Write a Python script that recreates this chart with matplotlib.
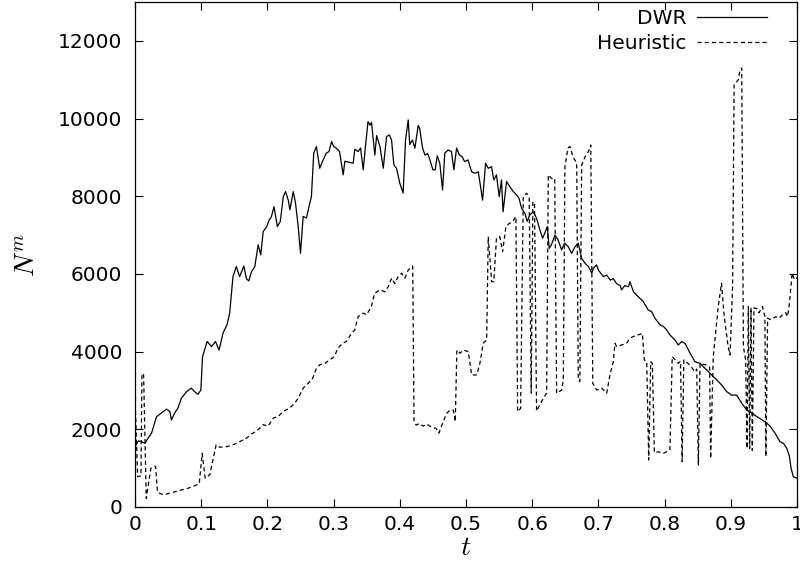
import matplotlib
matplotlib.use("Agg")
import matplotlib.pyplot as plt

plt.rcParams["font.family"] = ["DejaVu Sans"]
plt.rcParams["mathtext.fontset"] = "cm"
plt.rcParams["lines.scale_dashes"] = False

# DWR strategy: sampled times and model counts
t_dwr = [0.0, 0.005, 0.01, 0.015, 0.02, 0.025, 0.0325, 0.04, 0.0476, 0.0527, 0.055, 0.06,
         0.065, 0.07, 0.078, 0.085, 0.09, 0.095, 0.0995, 0.102, 0.109, 0.1156, 0.1216, 0.127,
         0.133, 0.139, 0.143, 0.148, 0.153, 0.158, 0.1644, 0.1685, 0.172, 0.176, 0.181, 0.186,
         0.19, 0.1936, 0.199, 0.2027, 0.206, 0.21, 0.215, 0.2195, 0.224, 0.2274, 0.2315, 0.234,
         0.239, 0.2425, 0.2465, 0.25, 0.254, 0.259, 0.264, 0.2665, 0.27, 0.274, 0.279, 0.284,
         0.289, 0.293, 0.297, 0.30, 0.304, 0.309, 0.3145, 0.317, 0.322, 0.3296, 0.332, 0.337,
         0.3407, 0.3447, 0.348, 0.352, 0.355, 0.3573, 0.3623, 0.365, 0.37, 0.375, 0.38, 0.384,
         0.3875, 0.391, 0.395, 0.4, 0.405, 0.4087, 0.4127, 0.415, 0.419, 0.4228, 0.4278, 0.43,
         0.4344, 0.438, 0.442, 0.4455, 0.45, 0.4535, 0.4565, 0.4604, 0.4646, 0.468, 0.473, 0.478,
         0.4817, 0.4858, 0.49, 0.494, 0.498, 0.503, 0.5085, 0.5135, 0.5186, 0.525, 0.5296,
         0.5336, 0.5386, 0.542, 0.546, 0.5502, 0.5536, 0.556, 0.5613, 0.566, 0.5714, 0.5764,
         0.58, 0.584, 0.589, 0.5924, 0.5965, 0.6016, 0.6066, 0.6117, 0.6157, 0.619, 0.6227,
         0.6258, 0.629, 0.6343, 0.639, 0.6444, 0.649, 0.6545, 0.6596, 0.6646, 0.6696, 0.6747,
         0.68, 0.685, 0.69, 0.6925, 0.6973, 0.70, 0.7075, 0.7125, 0.718, 0.7225, 0.7275, 0.733,
         0.735, 0.74, 0.7455, 0.7476, 0.753, 0.76, 0.7677, 0.7753, 0.7803, 0.7854, 0.793, 0.798,
         0.803, 0.808, 0.8157, 0.8207, 0.8258, 0.831, 0.8384, 0.8459, 0.8535, 0.8586, 0.8636,
         0.871, 0.879, 0.8862, 0.8938, 0.9013, 0.909, 0.9165, 0.924, 0.9316, 0.939, 0.9467,
         0.9543, 0.9593, 0.9669, 0.9743, 0.9795, 0.9846, 0.9886, 0.991, 0.9945, 1.0]
n_dwr = [1550, 1700, 1680, 1640, 1780, 1900, 2325, 2420, 2520, 2460, 2240, 2420,
         2550, 2800, 2970, 3060, 2970, 2900, 3010, 3870, 4260, 4130, 4260, 4040,
         4480, 4690, 4990, 5930, 6190, 5930, 6200, 5870, 5820, 6060, 6190, 6750,
         6490, 7090, 7220, 7390, 7470, 7730, 7220, 7350, 7990, 8120, 7900, 7650,
         8120, 7820, 7220, 6530, 7480, 7440, 7820, 7990, 9110, 9280, 8720, 8930,
         9110, 9150, 9410, 9280, 9240, 9150, 8550, 8900, 8880, 8850, 9210, 9150,
         9240, 8680, 9260, 9920, 9830, 9900, 9060, 9560, 9280, 8720, 9535, 9580,
         9450, 8810, 8720, 8335, 8080, 9450, 9965, 9330, 9450, 9240, 9820, 9750,
         9240, 9060, 9100, 8935, 8680, 8680, 9040, 8850, 8160, 9110, 9190, 9150,
         8680, 9240, 9060, 9020, 8890, 8935, 8630, 8590, 8630, 7900, 8850,
         8720, 8760, 8420, 8550, 7990, 8420, 7600, 8380, 8250, 8120, 8030,
         7950, 7690, 7560, 7350, 7520, 7600, 7430, 7130, 6920, 7050, 7220,
         6660, 6750, 7000, 6880, 6620, 6790, 6700, 6530, 6700, 6790, 6400,
         6270, 6190, 6020, 6150, 6230, 6100, 5930, 5970, 5840, 5880, 5750, 5700,
         5590, 5700, 5670, 5800, 5540, 5415, 5290, 5070, 5030, 4860, 4690, 4650,
         4560, 4430, 4300, 4170, 4260, 4210, 3960, 3740, 3700, 3610, 3530,
         3400, 3270, 3140, 2970, 2880, 2880, 2670, 2500, 2420, 2330, 2250,
         2160, 2080, 1900, 1680, 1640, 1510, 1300, 1000, 780, 740]

# Heuristic strategy: sampled times and model counts
t_heu = [0.0, 0.004, 0.009, 0.0105, 0.013, 0.017, 0.024, 0.031, 0.034, 0.040, 0.048, 0.058,
         0.068, 0.078, 0.085, 0.092, 0.097, 0.1015, 0.106, 0.113, 0.118, 0.1225, 0.128, 0.138,
         0.148, 0.158, 0.168, 0.178, 0.186, 0.1936, 0.201, 0.209, 0.216, 0.224, 0.234, 0.2415,
         0.2465, 0.254, 0.262, 0.2685, 0.274, 0.279, 0.287, 0.2935, 0.301, 0.3065, 0.314,
         0.3195, 0.327, 0.332, 0.337, 0.3447, 0.35, 0.357, 0.362, 0.37, 0.3775, 0.3825, 0.3875,
         0.3925, 0.3975, 0.4026, 0.4077, 0.4127, 0.4195, 0.4215, 0.4248, 0.43, 0.435, 0.441,
         0.4475, 0.455, 0.459, 0.4656, 0.4707, 0.4757, 0.481, 0.4838, 0.4862, 0.491, 0.496,
         0.5035, 0.5085, 0.5162, 0.521, 0.526, 0.5312, 0.5336, 0.5387, 0.542, 0.546, 0.551,
         0.5553, 0.5603, 0.5654, 0.5705, 0.5754, 0.578, 0.5825, 0.5865, 0.5915, 0.5955, 0.5985,
         0.601, 0.6035, 0.6066, 0.6117, 0.6167, 0.6218, 0.6243, 0.629, 0.634, 0.6369, 0.6444,
         0.647, 0.6494, 0.654, 0.657, 0.662, 0.6672, 0.6696, 0.672, 0.6747, 0.68, 0.685, 0.6885,
         0.6915, 0.6975, 0.705, 0.7125, 0.718, 0.7225, 0.725, 0.7275, 0.735, 0.7426, 0.7476,
         0.753, 0.76, 0.7664, 0.7694, 0.773, 0.776, 0.779, 0.7815, 0.7845, 0.7905, 0.798, 0.808,
         0.8115, 0.8207, 0.824, 0.8265, 0.829, 0.8384, 0.8459, 0.8485, 0.851, 0.8535, 0.8636,
         0.868, 0.8695, 0.8735, 0.881, 0.886, 0.89, 0.896, 0.8988, 0.9027, 0.905, 0.9115, 0.914,
         0.9165, 0.919, 0.9224, 0.9245, 0.9265, 0.9285, 0.9305, 0.9325, 0.935, 0.94, 0.9426,
         0.9478, 0.9515, 0.953, 0.9556, 0.9606, 0.968, 0.973, 0.978, 0.983, 0.9857, 0.9886,
         0.9926, 0.9961, 1.0]
n_heu = [2850, 780, 800, 3440, 3400, 220, 1000, 1050, 380, 330, 335, 380,
         430, 470, 515, 560, 600, 1380, 740, 830, 1240, 1600, 1540, 1550,
         1600, 1680, 1770, 1900, 1990, 2120, 2080, 2290, 2330, 2460, 2550, 2680,
         2800, 3060, 3190, 3320, 3570, 3660, 3700, 3780, 3870, 4090, 4220,
         4260, 4470, 4560, 4900, 4990, 4950, 5160, 5500, 5590, 5540, 5670, 5890,
         5750, 5930, 6020, 5890, 6100, 6200, 2200, 2110, 2150, 2080, 2130,
         2060, 2020, 1900, 2200, 2410, 2490, 2490, 2200, 4040, 3960, 4040,
         4000, 3400, 3400, 3700, 4215, 4300, 6960, 5800, 5800, 6920, 6960,
         6575, 7220, 7300, 7350, 7475, 2455, 2540, 7990, 8080, 7950, 2930,
         7860, 7820, 2470, 2630, 2800, 2930, 8550, 8460, 8460, 2930, 3010,
         3270, 8760, 9240, 9280, 9000, 8850, 3270, 3230, 8800, 9020, 9150, 9320,
         3185, 3010, 3060, 2930, 3440, 3740, 4215, 4130, 4170, 4215, 4345,
         4390, 4430, 4470, 3785, 3740, 1210, 3740, 3700, 1400, 1420, 1380, 1470,
         3870, 3700, 3750, 1170, 3785, 3650, 3480, 3550, 1080, 3700, 3650,
         3600, 1250, 3870, 5160, 5760, 4910, 4130, 3910, 5670, 10870, 11000, 11250,
         11300, 4130, 3785, 1510, 5160, 1510, 5130, 1460, 5130, 5100, 5000,
         5160, 4900, 1300, 4860, 4820, 4900, 4860, 4950, 5000, 4900, 5245,
         6020, 5850, 5900]

x_ticks = [0, 0.1, 0.2, 0.3, 0.4, 0.5, 0.6, 0.7, 0.8, 0.9, 1]
x_tick_labels = ["0", "0.1", "0.2", "0.3", "0.4", "0.5", "0.6", "0.7", "0.8", "0.9", "1"]
y_ticks = [0, 2000, 4000, 6000, 8000, 10000, 12000]
y_tick_labels = ["0", "2000", "4000", "6000", "8000", "10000", "12000"]

fig = plt.figure(figsize=(8.0, 5.65), dpi=100)
ax = fig.add_axes([135 / 800, 1 - 507 / 565, 662 / 800, 505 / 565])

ax.plot(t_dwr, n_dwr, color="black", linewidth=0.9, label="DWR")
ax.plot(t_heu, n_heu, color="black", linewidth=0.9, linestyle=(0, (3.0, 2.2)),
        label="Heuristic")

ax.set_xlim(0, 1)
ax.set_ylim(0, 13000)
ax.set_xticks(x_ticks)
ax.set_xticklabels(x_tick_labels)
ax.set_yticks(y_ticks)
ax.set_yticklabels(y_tick_labels)

ax.tick_params(axis="both", which="major", direction="in", length=6, width=0.8,
               top=True, right=True, labelsize=14.5, colors="black")
ax.tick_params(axis="x", pad=6)
ax.tick_params(axis="y", pad=9)
for s in ax.spines.values():
    s.set_linewidth(0.9)

ax.set_xlabel("$t$", fontsize=20, labelpad=-1)
ax.set_ylabel("$N^m$", fontsize=20, labelpad=12)

leg = ax.legend(loc="upper right", bbox_to_anchor=(0.955, 0.987), frameon=False,
                markerfirst=False, fontsize=14.5, handlelength=3.5, handletextpad=0.5,
                borderpad=0, borderaxespad=0, labelspacing=0.3)

fig.savefig("out.png", dpi=100)
